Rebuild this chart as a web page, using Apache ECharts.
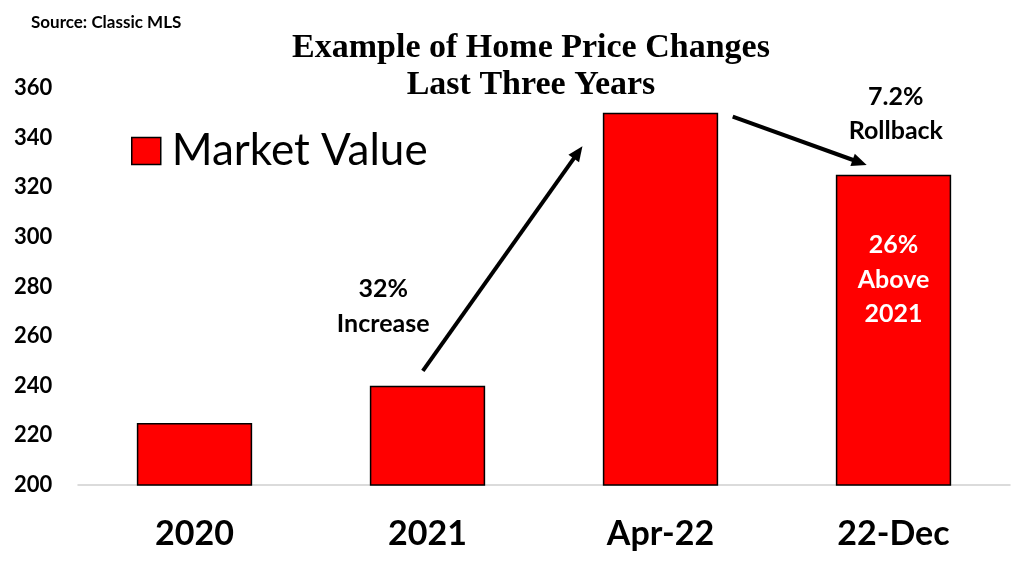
<!DOCTYPE html>
<html>
<head>
<meta charset="utf-8">
<script src="https://cdn.jsdelivr.net/npm/echarts@6/dist/echarts.min.js"></script>
<style>
html,body{margin:0;padding:0;background:#fff;}
#main{width:1024px;height:576px;}
</style>
</head>
<body>
<div id="main"></div>
<script>
const categories = ['2020', '2021', 'Apr-22', '22-Dec'];
const marketValue = [225, 240, 350, 325];
const yMin = 200, yMax = 360, yStep = 20;
const titleLines = ['Example of Home Price Changes', 'Last Three Years'];
const sourceText = 'Source: Classic MLS';
const seriesName = 'Market Value';
const increaseText = ['32%', 'Increase'];
const rollbackText = ['7.2%', 'Rollback'];
const aboveText = ['26%', 'Above', '2021'];

const chart = echarts.init(document.getElementById('main'), null, {renderer: 'canvas'});
const sans = 'Lato, "Open Sans", sans-serif';

chart.setOption({
  animation: false,
  backgroundColor: '#fff',
  title: [
    {text: sourceText, left: 26, top: 9, textStyle: {fontFamily: sans, fontWeight: 'bold', fontSize: 17, color: '#000'}},
    {text: titleLines.join('\n'), left: 526, top: 24, textAlign: 'center',
     textStyle: {fontFamily: '"Liberation Serif", "Times New Roman", serif', fontWeight: 'bold', fontSize: 34, lineHeight: 37.5, color: '#000'}}
  ],
  legend: {
    left: 126, top: 124, itemWidth: 29, itemHeight: 27, itemGap: 12, icon: 'rect',
    textStyle: {fontFamily: sans, fontSize: 44, color: '#000', padding: [0, 0, 0, 6]},
    data: [{name: seriesName, itemStyle: {color: '#ff0000', borderColor: '#000', borderWidth: 1.5}}]
  },
  grid: {left: 78, right: 14, top: 88, bottom: 91},
  xAxis: {
    type: 'category', data: categories,
    axisLine: {lineStyle: {color: '#d0d0d0', width: 1.5}},
    axisTick: {show: false},
    axisLabel: {fontFamily: sans, fontWeight: 'bold', fontSize: 34, color: '#000', margin: 32}
  },
  yAxis: {
    type: 'value', min: yMin, max: yMax, interval: yStep,
    axisLine: {show: false}, axisTick: {show: false}, splitLine: {show: false},
    axisLabel: {fontFamily: sans, fontWeight: 'bold', fontSize: 22, color: '#000', align: 'left', margin: 64}
  },
  series: [{
    name: seriesName, type: 'bar', data: marketValue, barWidth: '49.5%',
    itemStyle: {color: '#ff0000', borderColor: '#000', borderWidth: 1.5}
  }]
});

function drawAnnotations() {
  const toPx = (idx, frac, val) => {
    const p = chart.convertToPixel({gridIndex: 0}, [idx, val]);
    const band = chart.convertToPixel({gridIndex: 0}, [1, val])[0] - chart.convertToPixel({gridIndex: 0}, [0, val])[0];
    return [p[0] + frac * band, p[1]];
  };
  const arrows = [
    {from: toPx(1, -0.02, 246), to: toPx(2, -0.335, 336.5)},
    {from: toPx(2, 0.31, 348.5), to: toPx(3, -0.115, 329)}
  ];
  const g = [];
  arrows.forEach(a => {
    const [x1, y1] = a.from, [x2, y2] = a.to;
    const dx = x2 - x1, dy = y2 - y1, L = Math.hypot(dx, dy);
    const ux = dx / L, uy = dy / L;
    const hl = 15, hw = 6.5;
    const bx = x2 - ux * hl, by = y2 - uy * hl;
    g.push({type: 'line', z: 100, shape: {x1, y1, x2: bx + ux * 2, y2: by + uy * 2}, style: {stroke: '#000', lineWidth: 4}});
    g.push({type: 'polygon', z: 100, shape: {points: [[x2, y2], [bx - uy * hw, by + ux * hw], [bx + uy * hw, by - ux * hw]]}, style: {fill: '#000'}});
  });
  const txt = (lines, pos, color) => ({
    type: 'text', z: 100, x: pos[0], y: pos[1],
    style: {text: lines.join('\n'), fill: color, font: 'bold 25px ' + sans, lineHeight: 34.5, align: 'center', verticalAlign: 'middle'}
  });
  g.push(txt(increaseText, toPx(1, -0.19, 272), '#000'));
  g.push(txt(rollbackText, toPx(3, 0.01, 349.5), '#000'));
  g.push(txt(aboveText, toPx(3, 0, 282.7), '#fff'));
  chart.setOption({graphic: g});
}
drawAnnotations();
</script>
</body>
</html>
